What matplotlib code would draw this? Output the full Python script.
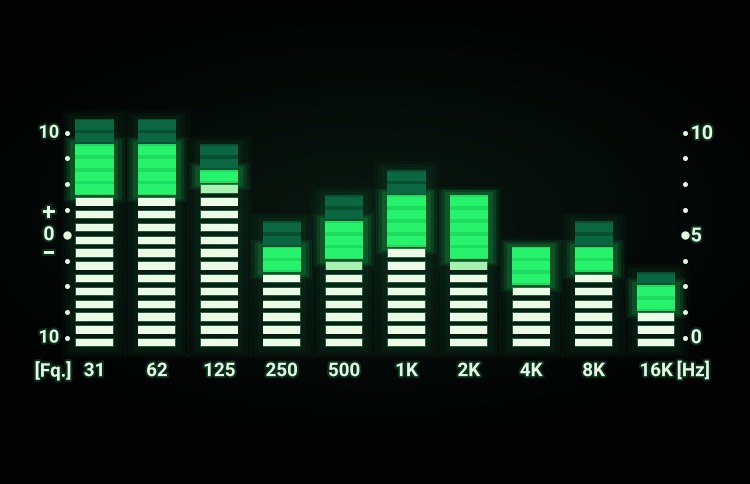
import numpy as np
import matplotlib
matplotlib.use("Agg")
import matplotlib.pyplot as plt
from matplotlib.patches import Rectangle
import matplotlib.patheffects as pe

# ---- data ----
bands = ["31", "62", "125", "250", "500", "1K", "2K", "4K", "8K", "16K"]
white_segs = [12, 12, 13, 6, 7, 8, 7, 5, 6, 3]
pale_top = [0, 0, 1, 0, 1, 0, 1, 0, 0, 0]
bright_segs = [4, 4, 1, 2, 3, 4, 5, 3, 2, 2]
dim_segs = [2, 2, 2, 2, 2, 2, 0, 0, 2, 1]
left_labels = ["10", "+", "0", "\u2212", "10"]
left_label_pos = [16.4, 10.1, 8.4, 6.9, 0.4]
right_labels = ["10", "5", "0"]
right_label_pos = [16.3, 8.3, 0.35]
dot_pos = [0.4 + 2 * k for k in range(9)]
unit_left = "[Fq.]"
unit_right = "[Hz]"

FONT = ["Roboto", "DejaVu Sans"]

fig = plt.figure(figsize=(7.5, 4.84), dpi=100)
fig.patch.set_facecolor("#020403")
ax = fig.add_axes([0, 0, 1, 1])
x0, x1 = -1.514, 10.505
y0, y1 = -11.04, 26.77
ax.set_xlim(x0, x1)
ax.set_ylim(y0, y1)
ax.axis("off")

# background glow
ny, nx = 200, 300
yy, xx = np.mgrid[0:1:ny * 1j, 0:1:nx * 1j]
cx, cy = 0.5, 0.55
d = np.sqrt(((xx - cx) / 0.62) ** 2 + ((yy - cy) / 0.48) ** 2)
g = np.clip(1 - d, 0, 1) ** 1.3
img = np.zeros((ny, nx, 3))
img[..., 0] = 0.008 + 0.03 * g
img[..., 1] = 0.012 + 0.085 * g
img[..., 2] = 0.010 + 0.06 * g
ax.imshow(img, extent=[x0, x1, y0, y1], origin="lower", aspect="auto", zorder=0)

W = 0.61
for i, b in enumerate(bands):
    nw, nb, nd = white_segs[i], bright_segs[i], dim_segs[i]
    total = nw + nb + nd
    # column halo
    for k, a in enumerate([0.04, 0.05, 0.06]):
        pad = 0.22 - 0.07 * k
        ax.add_patch(Rectangle((i - W / 2 - pad, -0.5 - pad * 3), W + 2 * pad,
                               total + pad * 6, color="#1f9a5a", alpha=a, lw=0, zorder=1))
    # bright band glow
    if nb:
        ax.add_patch(Rectangle((i - W / 2, nw - 0.5), W, nb, color="#1ddc5e", lw=0, zorder=2))
        for k, a in enumerate([0.08, 0.1, 0.12]):
            pad = 0.18 - 0.05 * k
            ax.add_patch(Rectangle((i - W / 2 - pad, nw - 0.5 - pad * 3), W + 2 * pad, nb + pad * 6,
                                   color="#22e060", alpha=a, lw=0, zorder=2))
    if nd:
        ax.add_patch(Rectangle((i - W / 2, nw + nb - 0.5), W, nd, color="#08502f", lw=0, zorder=2))
    for s in range(total):
        if s < nw:
            top_pale = pale_top[i] and s == nw - 1
            ax.add_patch(Rectangle((i - W / 2, s - 0.36), W, 0.72, color="#3fae72",
                                   alpha=0.45, lw=0, zorder=3))
            ax.add_patch(Rectangle((i - W / 2 + 0.01, s - 0.29), W - 0.02, 0.58,
                                   color="#a8f0b0" if top_pale else "#edfbe6", lw=0, zorder=4))
        elif s < nw + nb:
            ax.add_patch(Rectangle((i - W / 2, s - 0.36), W, 0.72, color="#26f36b",
                                   lw=0, zorder=4))
        else:
            ax.add_patch(Rectangle((i - W / 2, s - 0.36), W, 0.72, color="#0b6742",
                                   lw=0, zorder=4))

glow = [pe.withStroke(linewidth=3, foreground="#1b7a4a", alpha=0.35)]
txt_color = "#e4f6e2"

# dots
xl, xr = -0.44, 9.46
for k, p in enumerate(dot_pos):
    sz = 36 if k == 4 else 13
    ax.scatter([xl, xr], [p, p], s=sz, color=txt_color, zorder=5, lw=0)

# left scale labels
for lab, p in zip(left_labels, left_label_pos):
    if lab == "10":
        ax.text(-0.565, p, lab, ha="right", va="center", fontsize=13, color=txt_color,
                family=FONT, fontweight="bold", path_effects=glow, zorder=5)
    else:
        ax.text(-0.73, p, lab, ha="center", va="center", fontsize=17 if lab != "0" else 14,
                color=txt_color, family=FONT, fontweight="bold", path_effects=glow, zorder=5)

for lab, p in zip(right_labels, right_label_pos):
    ax.text(9.555, p, lab, ha="left", va="center", fontsize=14, color=txt_color,
            family=FONT, fontweight="bold", path_effects=glow, zorder=5)

# bottom labels
ly = -2.22
for i, b in enumerate(bands):
    ax.text(i, ly, b, ha="center", va="center", fontsize=13.5, color=txt_color,
            family=FONT, fontweight="bold", path_effects=glow, zorder=5)
ax.text(-0.37, ly, unit_left, ha="right", va="center", fontsize=13.5, color=txt_color,
        family=FONT, fontweight="bold", path_effects=glow, zorder=5)
ax.text(9.33, ly, unit_right, ha="left", va="center", fontsize=13.5, color=txt_color,
        family=FONT, fontweight="bold", path_effects=glow, zorder=5)

fig.savefig("out.png", dpi=100, facecolor=fig.get_facecolor())
